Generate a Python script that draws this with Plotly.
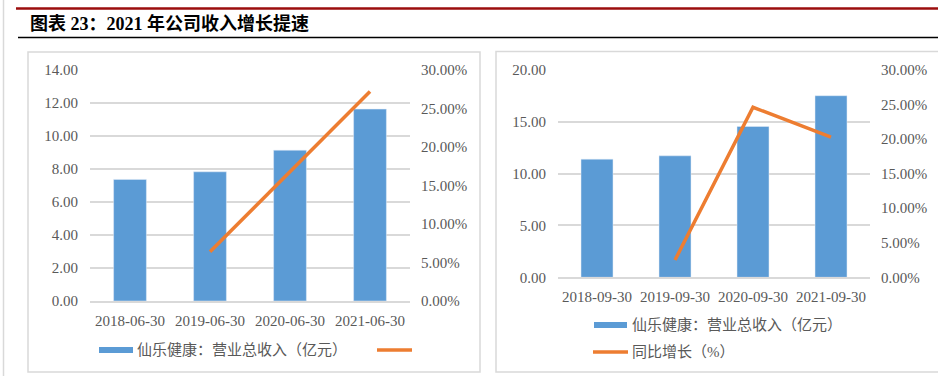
import plotly.graph_objects as go

# ---------------- data ----------------
left_categories = ["2018-06-30", "2019-06-30", "2020-06-30", "2021-06-30"]
left_revenue = [7.37, 7.83, 9.14, 11.63]          # 亿元
left_growth = [None, 0.064, 0.168, 0.272]          # 同比增长

right_categories = ["2018-09-30", "2019-09-30", "2020-09-30", "2021-09-30"]
right_revenue = [11.40, 11.72, 14.55, 17.52]
right_growth = [None, 0.025, 0.246, 0.203]

title_text = "图表 23：2021 年公司收入增长提速"
legend_bar_text = "仙乐健康：营业总收入（亿元）"
legend_line_text = "同比增长（%）"

# ---------------- styling ----------------
W, H = 938, 376
BLUE = "#5B9BD5"
ORANGE = "#ED7D31"
GRID = "#D9D9D9"
TXT = "#595959"
NUMFONT = dict(family="Liberation Serif, Noto Sans CJK SC, serif", size=15, color=TXT)
CJKFONT = dict(family="Liberation Serif, Noto Sans CJK SC, serif", size=15, color=TXT)


def px(x):
    return x / W


def py(y):
    return 1 - y / H


fig = go.Figure()

# left chart
fig.add_trace(go.Bar(x=left_categories, y=left_revenue, marker_color=BLUE,
                     xaxis="x", yaxis="y", showlegend=False,
                     name=legend_bar_text))
fig.add_trace(go.Scatter(x=left_categories, y=left_growth, mode="lines",
                         line=dict(color=ORANGE, width=3.5),
                         xaxis="x", yaxis="y2", showlegend=False, name=""))
# right chart
fig.add_trace(go.Bar(x=right_categories, y=right_revenue, marker_color=BLUE,
                     xaxis="x2", yaxis="y3", showlegend=False,
                     name=legend_bar_text))
fig.add_trace(go.Scatter(x=right_categories, y=right_growth, mode="lines",
                         line=dict(color=ORANGE, width=3.5),
                         xaxis="x2", yaxis="y4", showlegend=False,
                         name=legend_line_text))

common_x = dict(type="category", showline=True, linecolor=GRID, linewidth=1.5,
                ticks="", showgrid=False, tickfont=NUMFONT, ticklabelstandoff=5,
                fixedrange=True, automargin=False)
common_yl = dict(showgrid=True, gridcolor=GRID, gridwidth=1.5, zeroline=False,
                 showline=False, ticks="", tickfont=NUMFONT, tickformat=".2f",
                 ticklabelstandoff=11, automargin=False)
common_yr = dict(showgrid=False, zeroline=False, showline=False, ticks="",
                 tickfont=NUMFONT, tickformat=".2%", side="right",
                 ticklabelstandoff=10, automargin=False)

fig.update_layout(
    width=W, height=H, autosize=False,
    margin=dict(l=0, r=0, t=0, b=0, pad=0),
    paper_bgcolor="white", plot_bgcolor="white",
    barmode="group", bargap=0.59,
    xaxis=dict(domain=[px(90), px(410)], anchor="y", **common_x),
    yaxis=dict(domain=[py(301), py(70)], anchor="x", range=[0, 14], dtick=2, **common_yl),
    yaxis2=dict(overlaying="y", anchor="x", range=[0, 0.30], dtick=0.05, **common_yr),
    xaxis2=dict(domain=[px(558), px(870)], anchor="y3", **common_x),
    yaxis3=dict(domain=[py(277.3), py(70)], anchor="x2", range=[0, 20], dtick=5, **common_yl),
    yaxis4=dict(overlaying="y3", anchor="x2", range=[0, 0.30], dtick=0.05, **common_yr),
)

shapes = []
# page decorations
shapes.append(dict(type="line", xref="paper", yref="paper", x0=px(3.5), x1=px(3.5),
                   y0=0, y1=1, line=dict(color="#D9D9D9", width=1.5)))
shapes.append(dict(type="line", xref="paper", yref="paper", x0=px(16), x1=1,
                   y0=py(8.5), y1=py(8.5), line=dict(color="#9B0D0D", width=2.5)))
shapes.append(dict(type="line", xref="paper", yref="paper", x0=px(18), x1=1,
                   y0=py(37.5), y1=py(37.5), line=dict(color="black", width=1.5)))
# chart boxes
shapes.append(dict(type="rect", xref="paper", yref="paper", x0=px(28), x1=px(480),
                   y0=py(372), y1=py(52), line=dict(color="#D9D9D9", width=1.5)))
shapes.append(dict(type="rect", xref="paper", yref="paper", x0=px(496), x1=px(945),
                   y0=py(372), y1=py(51.5), line=dict(color="#D9D9D9", width=1.5)))
# legend swatches (left)
shapes.append(dict(type="rect", xref="paper", yref="paper", x0=px(99), x1=px(133),
                   y0=py(353), y1=py(347), fillcolor=BLUE, line=dict(width=0)))
shapes.append(dict(type="line", xref="paper", yref="paper", x0=px(377), x1=px(412),
                   y0=py(350), y1=py(350), line=dict(color=ORANGE, width=3.5)))
# legend swatches (right)
shapes.append(dict(type="rect", xref="paper", yref="paper", x0=px(594), x1=px(627),
                   y0=py(328), y1=py(322), fillcolor=BLUE, line=dict(width=0)))
shapes.append(dict(type="line", xref="paper", yref="paper", x0=px(593), x1=px(628),
                   y0=py(352), y1=py(352), line=dict(color=ORANGE, width=3.5)))

annotations = [
    dict(text=title_text, xref="paper", yref="paper", x=px(28), y=py(24),
         xanchor="left", yanchor="middle", align="left", showarrow=False,
         font=dict(family="Liberation Serif, Noto Sans CJK SC, serif", size=18,
                   color="black", weight="bold")),
    dict(text=legend_bar_text, xref="paper", yref="paper", x=px(135), y=py(350),
         xanchor="left", yanchor="middle", align="left", showarrow=False, font=CJKFONT),
    dict(text=legend_bar_text, xref="paper", yref="paper", x=px(630), y=py(325),
         xanchor="left", yanchor="middle", align="left", showarrow=False, font=CJKFONT),
    dict(text=legend_line_text, xref="paper", yref="paper", x=px(630), y=py(352),
         xanchor="left", yanchor="middle", align="left", showarrow=False, font=CJKFONT),
]

fig.update_layout(shapes=shapes, annotations=annotations)

fig.write_html(
    "out.html",
    config={"displayModeBar": False},
    post_script="document.body.style.margin='0';document.body.style.padding='0';"
                "document.body.style.overflow='hidden';",
)
